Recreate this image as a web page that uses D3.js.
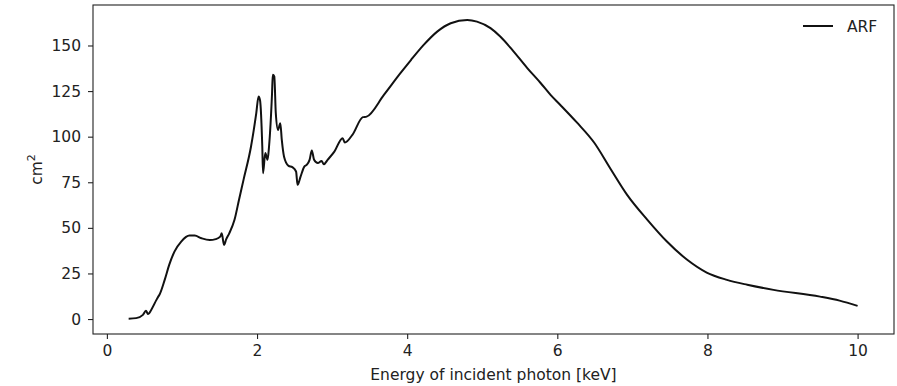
<!DOCTYPE html>
<html>
<head>
<meta charset="utf-8">
<script src="https://cdn.jsdelivr.net/npm/d3@7"></script>
<style>
	body { margin: 0; background: white; }
	text { font-family: "DejaVu Sans", sans-serif; }
</style>
</head>
<body>
<div id="vizContainer"></div>
<script>
let w = 897;
let h = 386;

// energy (keV)
let energy = [0.29, 0.39, 0.48, 0.52, 0.55, 0.59, 0.66, 0.68, 0.70, 0.77, 0.83, 0.90, 0.99, 1.10, 1.17, 1.26, 1.37, 1.45, 1.51, 1.53, 1.56, 1.59, 1.63, 1.70, 1.76, 1.82,
	1.92, 1.99, 2.02, 2.04, 2.07, 2.08, 2.11, 2.14, 2.16, 2.20, 2.21, 2.23, 2.25, 2.28, 2.31, 2.33, 2.36, 2.42, 2.47, 2.52, 2.54, 2.58, 2.63, 2.66, 2.70, 2.73, 2.76, 2.81, 2.86, 2.89, 2.94, 3.03, 3.14, 3.17, 3.27, 3.41, 3.46,
	3.69, 3.91, 4.05, 4.22, 4.40, 4.58, 4.80, 4.93, 5.11, 5.24, 5.40, 5.60, 5.78, 5.91, 6.04, 6.26, 6.49, 6.71, 6.93, 7.20, 7.46, 7.73, 7.99, 8.26, 8.53, 8.88, 9.50, 9.76, 10.0];

// effective area (cm^2)
let arf = [0.2, 0.5, 2.3, 4.5, 2.7, 5, 10.5, 12, 13.3, 21.5, 29.7, 37, 42.5, 45.8, 45.8, 44.3, 43.3, 43.8, 45.2, 47, 40.7, 43.8, 47, 54.4, 65.4, 76.3,
	94.6, 112.9, 122, 120, 94.6, 80, 91, 87.3, 94.6, 123.8, 133.9, 133, 112.9, 103.7, 107.4, 98.2, 89, 84, 83.3, 80.9, 73.6, 78.1, 83.6, 84.5, 87.3, 92.4, 87.3, 85.5, 86.7, 84.9, 87.3, 91.8, 99.2, 96.8, 101, 110.7, 111,
	122.9, 134.8, 142, 150.3, 157.6, 162.2, 164, 163.1, 159.5, 154.9, 147.6, 137.6, 129.3, 122.9, 117.4, 107.8, 96.8, 82.3, 68.1, 54.4, 42.5, 32.5, 25.5, 21.5, 18.8, 16, 12.3, 10.1, 7.2];

let xTicks = [0, 2, 4, 6, 8, 10];
let yTicks = [0, 25, 50, 75, 100, 125, 150];

let plotL = 93, plotR = 894, plotT = 5, plotB = 334;
let fs = '15.5px';

let viz = d3.select('#vizContainer').append('svg')
	.attr('width', w)
	.attr('height', h)
	.style('background-color', 'white')
	;

let xScale = d3.scaleLinear().domain([-0.185, 10.485]).range([plotL, plotR]);
let yScale = d3.scaleLinear().domain([-8.2, 172.2]).range([plotB, plotT]);

let xAxis = d3.axisBottom(xScale).tickValues(xTicks).tickSize(5).tickPadding(6).tickFormat(d3.format('d'));
let yAxis = d3.axisLeft(yScale).tickValues(yTicks).tickSize(5).tickPadding(7).tickFormat(d3.format('d'));

let xg = viz.append('g').attr('transform', 'translate(0,' + plotB + ')').call(xAxis);
let yg = viz.append('g').attr('transform', 'translate(' + plotL + ',0)').call(yAxis);

[xg, yg].forEach(function(g){
	g.select('.domain').remove();
	g.selectAll('line').attr('stroke', '#222').attr('stroke-width', 1.1);
	g.selectAll('text').attr('fill', '#222').style('font-size', fs).style('font-family', '"DejaVu Sans", sans-serif');
});

// frame
viz.append('rect')
	.attr('x', plotL)
	.attr('y', plotT)
	.attr('width', plotR - plotL)
	.attr('height', plotB - plotT)
	.attr('fill', 'none')
	.attr('stroke', '#222')
	.attr('stroke-width', 1.1)
	;

let points = energy.map(function(e, i){ return [e, arf[i]]; });

let line = d3.line()
	.x(function(d){ return xScale(d[0]); })
	.y(function(d){ return yScale(d[1]); })
	.curve(d3.curveMonotoneX);

viz.append('path')
	.datum(points)
	.attr('d', line)
	.attr('fill', 'none')
	.attr('stroke', '#111')
	.attr('stroke-width', 2)
	.attr('stroke-linejoin', 'round')
	;

// axis labels
viz.append('text')
	.attr('x', (plotL + plotR) / 2)
	.attr('y', 380)
	.attr('text-anchor', 'middle')
	.attr('fill', '#222')
	.style('font-size', fs)
	.text('Energy of incident photon [keV]');

let yl = viz.append('text')
	.attr('transform', 'translate(42,' + ((plotT + plotB) / 2) + ') rotate(-90)')
	.attr('text-anchor', 'middle')
	.attr('fill', '#222')
	.style('font-size', fs);
yl.append('tspan').text('cm');
yl.append('tspan').attr('dy', -7).style('font-size', '11px').text('2');

// legend
viz.append('line')
	.attr('x1', 803).attr('x2', 833)
	.attr('y1', 26).attr('y2', 26)
	.attr('stroke', '#111')
	.attr('stroke-width', 2);
viz.append('text')
	.attr('x', 847)
	.attr('y', 31.5)
	.attr('fill', '#222')
	.style('font-size', fs)
	.text('ARF');
</script>
</body>
</html>
